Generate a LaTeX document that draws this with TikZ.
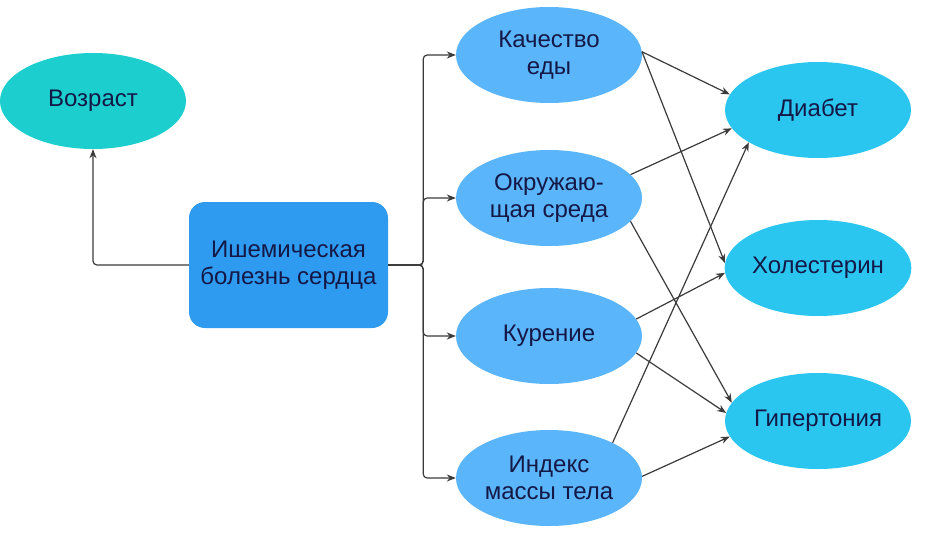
\documentclass[tikz,border=0pt]{standalone}
\usepackage{fontspec}
\setmainfont{Liberation Sans}
\usepackage{tikz}
\usetikzlibrary{arrows.meta, positioning, shapes.geometric}

\definecolor{txtnavy}{RGB}{20,24,70}
\definecolor{edgegray}{RGB}{58,58,58}
\definecolor{agecol}{RGB}{28,206,206}
\definecolor{ihdcol}{RGB}{47,155,240}
\definecolor{factcol}{RGB}{91,181,250}
\definecolor{riskcol}{RGB}{43,198,240}

\begin{document}
\begin{tikzpicture}[
    x=1pt, y=-1pt,
    oval/.style={ellipse, inner sep=0pt, minimum width=186pt, minimum height=96pt, align=center, text=txtnavy, font=\fontsize{24}{27.5}\selectfont},
    box/.style={rectangle, rounded corners=16pt, inner sep=0pt, minimum width=199pt, minimum height=126pt, align=center, text=txtnavy, font=\fontsize{24}{27.5}\selectfont, fill=ihdcol},
    link/.style={draw=edgegray, line width=1.2pt, -{Stealth[length=9pt, width=7pt]}},
]
  \useasboundingbox (0,0) rectangle (928,538);

  % Left side
  \node[oval, fill=agecol] (vozr) at (93,101) {Возраст};
  \node[box] (ihd) at (288.5,265) {Ишемическая\\болезнь сердца};

  % Factors (middle)
  \node[oval, fill=factcol] (kach) at (549,55) {Качество\\еды};
  \node[oval, fill=factcol] (okr) at (549,198) {Окружаю-\\щая среда};
  \node[oval, fill=factcol] (kur) at (549,336) {Курение};
  \node[oval, fill=factcol] (imt) at (549,478) {Индекс\\массы тела};

  % Risks (right)
  \node[oval, fill=riskcol] (diab) at (818,110) {Диабет};
  \node[oval, fill=riskcol] (chol) at (818,268) {Холестерин};
  \node[oval, fill=riskcol] (gip) at (818,421) {Гипертония};

  % Tree connectors
  \draw[link, rounded corners=4pt] (ihd.west) -| (vozr.south);
  \draw[link, rounded corners=4pt] (ihd.east) -- ++(35,0) |- (kach.west);
  \draw[link, rounded corners=4pt] (ihd.east) -- ++(35,0) |- (okr.west);
  \draw[link, rounded corners=4pt] (ihd.east) -- ++(35,0) |- (kur.west);
  \draw[link, rounded corners=4pt] (ihd.east) -- ++(35,0) |- (imt.west);

  % Crossing connectors
  \draw[link] (kach.2) -- (diab.170);
  \draw[link] (kach.2) -- (chol.177);
  \draw[link] (okr.16) -- (diab.192);
  \draw[link] (okr.-16) -- (gip.168);
  \draw[link] (kur.11) -- (chol.183);
  \draw[link] (kur.-11) -- (gip.175);
  \draw[link] (imt.29) -- (diab.205);
  \draw[link] (imt.1) -- (gip.190);
\end{tikzpicture}
\end{document}
